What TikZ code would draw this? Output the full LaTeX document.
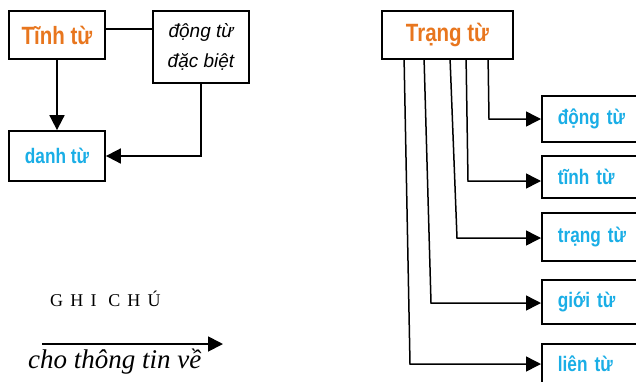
\documentclass[tikz,border=0pt]{standalone}
\usepackage{fontspec}
\setmainfont{Liberation Serif}
\newfontfamily\condsans[FakeStretch=0.82]{Liberation Sans}
\newfontfamily\plainsans{Liberation Sans}
\usetikzlibrary{arrows.meta}
\definecolor{wordorange}{RGB}{232,118,30}
\definecolor{wordblue}{RGB}{26,174,230}
\tikzset{
  box/.style={draw=black, line width=1.8pt, fill=white, inner sep=0pt},
  headword/.style={font=\condsans\bfseries\fontsize{25}{28}\selectfont, text=wordorange},
  targetword/.style={font=\condsans\bfseries\fontsize{21}{24}\selectfont, text=wordblue},
  leftbox/.style={box, targetword, text width=78pt, align=left, inner xsep=16pt, minimum width=110pt, anchor=west},
  link/.style={line width=1.8pt},
  branch/.style={line width=1.5pt, -{Triangle[length=15pt,width=15pt]}},
  arr/.style={line width=1.8pt, -{Triangle[length=15pt,width=15pt]}}
}
\begin{document}
\begin{tikzpicture}[x=1pt, y=-1pt]
\useasboundingbox (0,0) rectangle (636,381);
\clip (0,0) rectangle (636,381);

% left group: adjective, special verb, noun
\node[box, headword, minimum width=96pt, minimum height=48pt] (tinh) at (57,35) {Tĩnh từ};
\node[box, minimum width=96pt, minimum height=72pt, align=center,
      font=\plainsans\itshape\fontsize{19}{30}\selectfont] (dac) at (201,47) {động từ\\đặc biệt};
\node[box, targetword, minimum width=96pt, minimum height=50pt] (danh) at (57,156) {danh từ};

\draw[link] ([yshift=6pt]tinh.east) -- ([yshift=6pt]tinh.east -| dac.west);
\draw[arr] (tinh.south) -- (danh.north);
\draw[arr] (dac.south) |- (danh.east);

% right group: adverb and what it modifies
\node[box, headword, minimum width=131pt, minimum height=48pt] (trang) at (447.5,35) {Trạng từ};

\node[leftbox, minimum height=46pt] (dongtu) at (541,119) {động từ};
\node[leftbox, minimum height=42pt] (tinhtu) at (541,177) {tĩnh từ};
\node[leftbox, minimum height=48pt] (trangtu) at (541,237) {trạng từ};
\node[leftbox, minimum height=44pt] (gioitu) at (541,302) {giới từ};
\node[leftbox, minimum height=40pt] (lientu) at (541,364) {liên từ};

\coordinate (k1) at (489,119);
\coordinate (k2) at (468,181);
\coordinate (k3) at (457,238);
\coordinate (k4) at (431,303);
\coordinate (k5) at (410,364);

\draw[branch] ([xshift=107pt]trang.south west) -- (k1) -- (dongtu.west);
\draw[branch] ([xshift=85pt]trang.south west) -- (k2) -- ([yshift=-4pt]tinhtu.west);
\draw[branch] ([xshift=69pt]trang.south west) -- (k3) -- ([yshift=-1pt]trangtu.west);
\draw[branch] ([xshift=43pt]trang.south west) -- (k4) -- ([yshift=-1pt]gioitu.west);
\draw[branch] ([xshift=23pt]trang.south west) -- (k5) -- (lientu.west);

% legend
\node[anchor=base west, inner sep=0pt, font=\fontsize{18}{20}\selectfont\addfontfeatures{LetterSpace=40}] (ghichu) at (50,306) {GHI CHÚ};
\coordinate (legstart) at (42,344);
\coordinate (legend) at (223,344);
\draw[arr] (legstart) -- (legend);
\node[anchor=base west, inner sep=0pt, font=\itshape\fontsize{27}{30}\selectfont] (legtext) at (28,368) {cho thông tin về};
\end{tikzpicture}
\end{document}
